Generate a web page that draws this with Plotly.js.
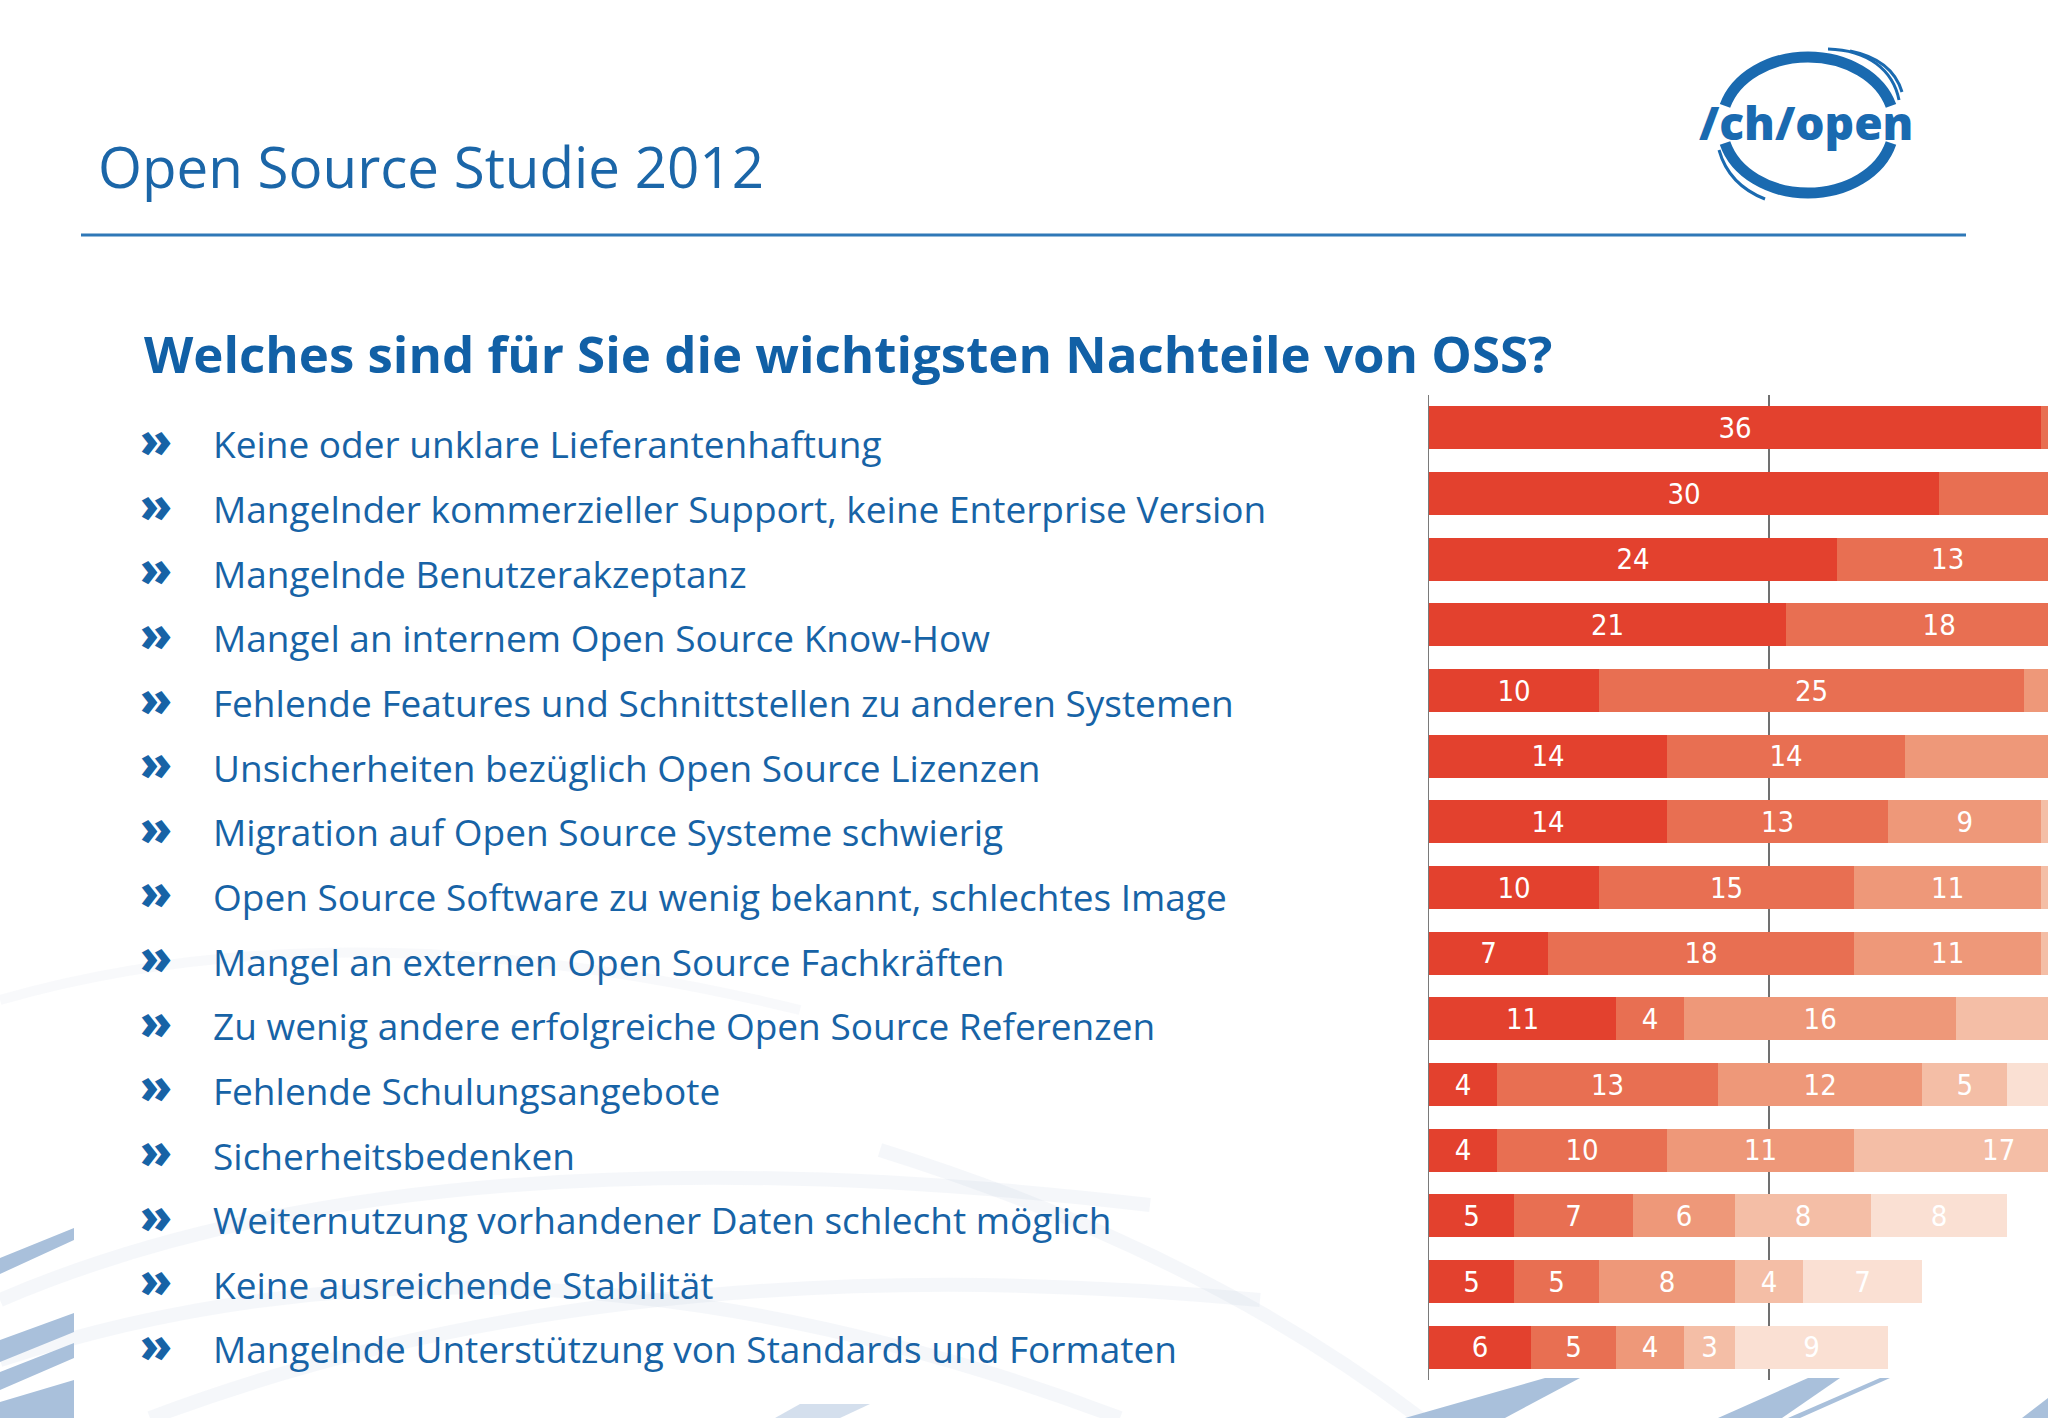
<!DOCTYPE html>
<html>
<head>
<meta charset="utf-8">
<script src="https://cdn.plot.ly/plotly-3.0.1.min.js"></script>
<style>
html,body{margin:0;padding:0;background:#ffffff;}
#chart{width:2048px;height:1418px;}
</style>
</head>
<body>
<div id="chart"></div>
<script>
// ---------- DATA ----------
const categories = [
  "Keine oder unklare Lieferantenhaftung",
  "Mangelnder kommerzieller Support, keine Enterprise Version",
  "Mangelnde Benutzerakzeptanz",
  "Mangel an internem Open Source Know-How",
  "Fehlende Features und Schnittstellen zu anderen Systemen",
  "Unsicherheiten bezüglich Open Source Lizenzen",
  "Migration auf Open Source Systeme schwierig",
  "Open Source Software zu wenig bekannt, schlechtes Image",
  "Mangel an externen Open Source Fachkräften",
  "Zu wenig andere erfolgreiche Open Source Referenzen",
  "Fehlende Schulungsangebote",
  "Sicherheitsbedenken",
  "Weiternutzung vorhandener Daten schlecht möglich",
  "Keine ausreichende Stabilität",
  "Mangelnde Unterstützung von Standards und Formaten"
];
// segments of each bar (values beyond the cropped right edge are estimates)
const rang1 = [36, 30, 24, 21, 10, 14, 14, 10,  7, 11,  4,  4, 5, 5, 6];
const rang2 = [ 6, 16, 13, 18, 25, 14, 13, 15, 18,  4, 13, 10, 7, 5, 5];
const rang3 = [ 3,  5,  8,  6,  7, 20,  9, 11, 11, 16, 12, 11, 6, 8, 4];
const rang4 = [ 2,  3,  3,  3,  3,  3,  5,  5,  6, 14,  5, 17, 8, 4, 3];
const rang5 = [ 1,  2,  2,  2,  2,  2,  3,  3,  3,  3,  9,  6, 8, 7, 9];
const seriesNames = ["Rang 1", "Rang 2", "Rang 3", "Rang 4", "Rang 5"];
const pageTitle = "Open Source Studie 2012";
const question = "Welches sind für Sie die wichtigsten Nachteile von OSS?";
const logoText = "/ch/open";
const bullet = "»";

// ---------- STYLE ----------
const W = 2048, H = 1418;
const px = x => x / W;
const py = y => 1 - y / H;
const xMax = 36.4;              // the chart is cropped at the right edge of the slide
const colors = ["#E3412E", "#E86F52", "#EE9879", "#F4BEA6", "#FAE0D3"];
const blue = "#1763A6";
const narrow = "Liberation Sans Narrow, Arial Narrow, DejaVu Sans Condensed, sans-serif";

const allSeries = [rang1, rang2, rang3, rang4, rang5];
const traces = allSeries.map((vals, k) => {
  // only label segments whose centre lies inside the visible (cropped) range
  const labels = vals.map((v, i) => {
    let start = 0;
    for (let j = 0; j < k; j++) start += allSeries[j][i];
    return (start + v / 2 + 1.2 < xMax) ? String(v) : "";
  });
  return {
    type: "bar",
    orientation: "h",
    name: seriesNames[k],
    y: categories,
    x: vals,
    text: labels,
    textposition: "inside",
    insidetextanchor: "middle",
    textangle: 0,
    textfont: {family: narrow, size: 29, color: "#ffffff"},
    marker: {color: colors[k], line: {width: 0}},
    hoverinfo: "skip"
  };
});

// path helper: list of [cmd, x1, y1, ...] in pixel coordinates -> paper path
function P(cmds) {
  return cmds.map(c => {
    const pts = [];
    for (let i = 1; i < c.length; i += 2) pts.push(px(c[i]).toFixed(5) + "," + py(c[i + 1]).toFixed(5));
    return c[0] + (pts.length ? " " + pts.join(" ") : "");
  }).join(" ");
}

const shapes = [];
function addPath(cmds, opts) {
  shapes.push(Object.assign({type: "path", xref: "paper", yref: "paper", path: P(cmds), layer: "below"}, opts));
}
// faint background swooshes
const faint = {line: {color: "rgba(195,208,226,0.16)", width: 14}};
addPath([["M", 0, 1300], ["Q", 420, 1120, 1150, 1205]], faint);
addPath([["M", 0, 1360], ["Q", 520, 1190, 1120, 1418]], faint);
addPath([["M", 150, 1418], ["Q", 620, 1240, 1260, 1300]], faint);
addPath([["M", 880, 1150], ["Q", 1200, 1250, 1420, 1418]], faint);
addPath([["M", 0, 1000], ["Q", 350, 900, 800, 1010]], {line: {color: "rgba(195,208,226,0.12)", width: 10}});
// blue stripes
const stripe = {fillcolor: "#A9C0DB", line: {width: 0}};
addPath([["M", 0, 1258], ["L", 74, 1228], ["L", 74, 1240], ["L", 0, 1274], ["Z"]], stripe);
addPath([["M", 0, 1340], ["L", 74, 1313], ["L", 74, 1332], ["L", 0, 1362], ["Z"]], stripe);
addPath([["M", 0, 1372], ["L", 74, 1343], ["L", 74, 1358], ["L", 0, 1390], ["Z"]], stripe);
addPath([["M", 0, 1402], ["L", 74, 1380], ["L", 74, 1418], ["L", 0, 1418], ["Z"]], stripe);
addPath([["M", 775, 1418], ["L", 840, 1418], ["L", 870, 1404], ["L", 800, 1404], ["Z"]], {fillcolor: "rgba(169,192,219,0.5)", line: {width: 0}});
addPath([["M", 1405, 1418], ["L", 1505, 1418], ["L", 1580, 1378], ["L", 1545, 1378], ["Z"]], stripe);
addPath([["M", 1718, 1418], ["L", 1782, 1418], ["L", 1840, 1378], ["L", 1808, 1378], ["Z"]], stripe);
addPath([["M", 1788, 1418], ["L", 1800, 1418], ["L", 1890, 1378], ["L", 1880, 1378], ["Z"]], stripe);
addPath([["M", 2022, 1418], ["L", 2048, 1418], ["L", 2048, 1398], ["Z"]], stripe);
// horizontal rule
shapes.push({type: "line", xref: "paper", yref: "paper", x0: px(81), x1: px(1966), y0: py(235), y1: py(235),
  line: {color: "#2F78B7", width: 3}, layer: "above"});
// logo ring
const logoBlue = "#1A6AB0";
addPath([["M", 1725, 106], ["C", 1735.6, 76.8, 1769.6, 57, 1808, 57], ["C", 1846.4, 57, 1880.4, 76.8, 1891, 106]],
  {line: {color: logoBlue, width: 11}, layer: "above"});
addPath([["M", 1725, 143], ["C", 1735.1, 172.7, 1769.1, 193, 1808, 193], ["C", 1846.9, 193, 1880.9, 172.7, 1891, 143]],
  {line: {color: logoBlue, width: 11}, layer: "above"});
addPath([["M", 1828, 49], ["C", 1868, 50, 1893, 70, 1899, 100]], {line: {color: logoBlue, width: 3}, layer: "above"});
addPath([["M", 1850, 51], ["C", 1880, 57, 1896, 72, 1902, 92]], {line: {color: logoBlue, width: 3}, layer: "above"});
addPath([["M", 1719, 150], ["C", 1726, 175, 1742, 190, 1765, 199]], {line: {color: logoBlue, width: 3}, layer: "above"});

// ---------- ANNOTATIONS ----------
const annotations = [];
const rowTop = 444, rowPitch = 64.64;
categories.forEach((c, i) => {
  const yc = rowTop + i * rowPitch;
  annotations.push({xref: "paper", yref: "paper", x: px(211), y: py(yc), xanchor: "left", yanchor: "middle",
    text: c, showarrow: false, font: {family: "Open Sans", size: 37, color: blue}});
  annotations.push({xref: "paper", yref: "paper", x: px(138), y: py(yc - 5), xanchor: "left", yanchor: "middle",
    text: bullet, showarrow: false, font: {family: "Open Sans", size: 47, weight: 800, color: blue}});
});
annotations.push({xref: "paper", yref: "paper", x: px(96), y: py(166), xanchor: "left", yanchor: "middle",
  text: pageTitle, showarrow: false, font: {family: "Open Sans", size: 56.5, color: "#1B66A8"}});
annotations.push({xref: "paper", yref: "paper", x: px(142), y: py(353), xanchor: "left", yanchor: "middle",
  text: "<b>" + question + "</b>", showarrow: false, font: {family: "Open Sans", size: 51, color: "#1160A6"}});
annotations.push({xref: "paper", yref: "paper", x: px(1806), y: py(122), xanchor: "center", yanchor: "middle",
  text: logoText, showarrow: false, font: {family: "Open Sans", size: 46, weight: 800, color: logoBlue}});

const layout = {
  width: W, height: H,
  margin: {l: 0, r: 0, t: 0, b: 0},
  paper_bgcolor: "#ffffff",
  plot_bgcolor: "#ffffff",
  barmode: "stack",
  bargap: 0.35,
  showlegend: false,
  xaxis: {domain: [px(1429), 1], range: [0, xMax], tickvals: [20], showticklabels: false,
    showgrid: true, gridcolor: "#707070", gridwidth: 1.5, zeroline: false, showline: false, ticks: "", fixedrange: true},
  yaxis: {domain: [py(1380), py(395)], type: "category", autorange: "reversed", showticklabels: false,
    showgrid: false, zeroline: false, showline: true, linecolor: "#7a7a7a", linewidth: 1.5, ticks: "", fixedrange: true},
  annotations: annotations,
  shapes: shapes
};

Plotly.newPlot("chart", traces, layout, {displayModeBar: false, staticPlot: true});
</script>
</body>
</html>
